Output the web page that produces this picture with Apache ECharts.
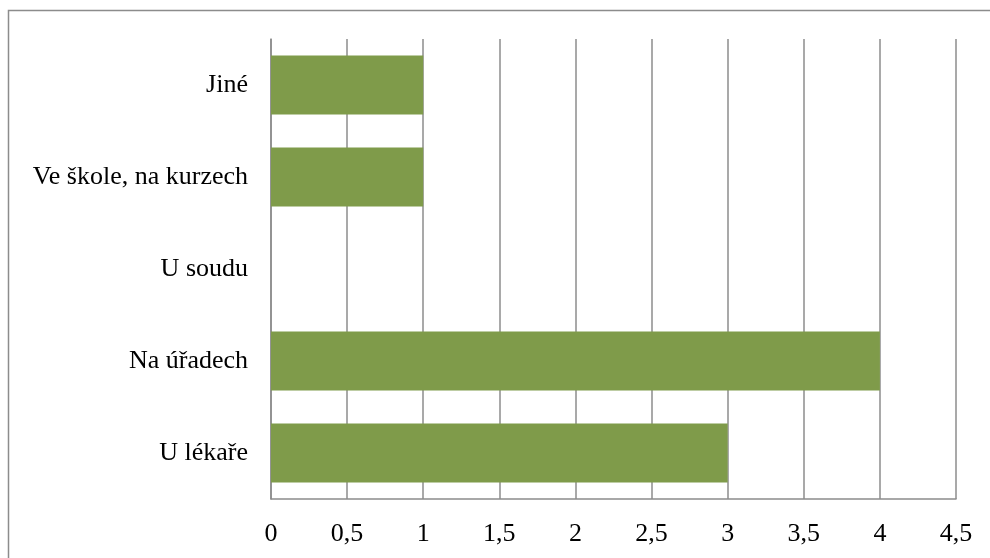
<!DOCTYPE html>
<html>
<head>
<meta charset="utf-8">
<script src="https://cdn.jsdelivr.net/npm/echarts@6/dist/echarts.min.js"></script>
<style>
  html, body { margin: 0; padding: 0; background: #fff; }
  #chart { width: 990px; height: 558px; }
</style>
</head>
<body>
<div id="chart"></div>
<script>
// Categories listed bottom to top
const categories = ['U lékaře', 'Na úřadech', 'U soudu', 'Ve škole, na kurzech', 'Jiné'];
const values = [3, 4, 0, 1, 1];
const xTicks = [0, 0.5, 1, 1.5, 2, 2.5, 3, 3.5, 4, 4.5];

const chart = echarts.init(document.getElementById('chart'), null, { renderer: 'canvas' });
const serif = '"Liberation Serif", "DejaVu Serif", serif';

chart.setOption({
  animation: false,
  backgroundColor: '#ffffff',
  graphic: [{
    type: 'rect',
    shape: { x: 8.5, y: 10.5, width: 1000, height: 600 },
    style: { fill: 'none', stroke: '#8c8c8c', lineWidth: 1.5 },
    silent: true
  }],
  grid: { left: 271, right: 34, top: 39, bottom: 59, containLabel: false },
  xAxis: {
    type: 'value',
    min: 0,
    max: 4.5,
    interval: 0.5,
    axisLine: { show: true, lineStyle: { color: '#8c8c8c', width: 1.5 } },
    axisTick: { show: false },
    splitLine: { show: true, lineStyle: { color: '#8c8c8c', width: 1.5 } },
    axisLabel: {
      margin: 22,
      fontFamily: serif,
      fontSize: 26,
      color: '#000',
      formatter: v => xTicks.includes(v) ? String(v).replace('.', ',') : ''
    }
  },
  yAxis: {
    type: 'category',
    data: categories,
    axisLine: { show: true, lineStyle: { color: '#8c8c8c', width: 1.5 } },
    axisTick: { show: false },
    axisLabel: { margin: 23, fontFamily: serif, fontSize: 26, color: '#000' }
  },
  series: [{
    type: 'bar',
    data: values,
    barCategoryGap: '36%',
    itemStyle: { color: '#7f9b4a' }
  }]
});
</script>
</body>
</html>
